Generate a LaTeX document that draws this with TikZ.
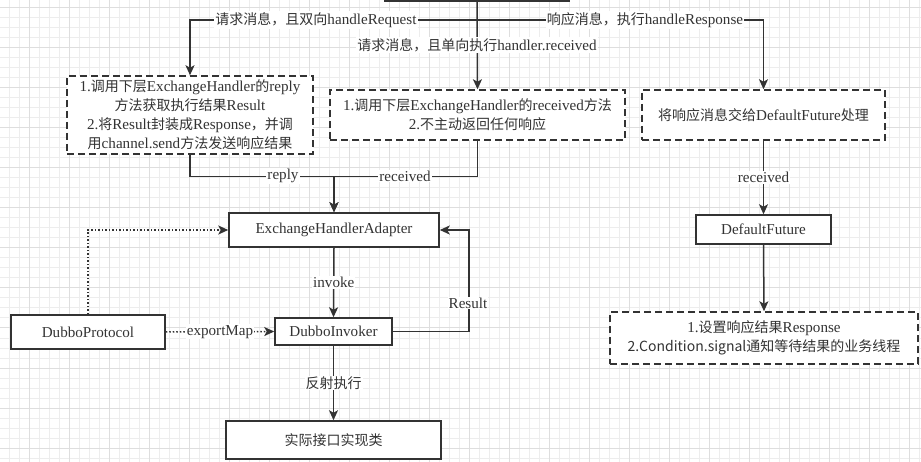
\documentclass[tikz,border=0pt]{standalone}
\usepackage{fontspec}
\setmainfont[Scale=1.08]{Liberation Serif}
\newfontfamily\cjk{Noto Sans CJK SC}
\newcommand\zh[1]{{\cjk #1}}
\usetikzlibrary{arrows.meta}
\definecolor{ink}{HTML}{333333}
\definecolor{minorgrid}{HTML}{EDEDED}
\definecolor{majorgrid}{HTML}{DEDEDE}
\tikzset{
  box/.style={draw=ink, line width=1.5pt, fill=white, inner sep=0pt, align=center,
    text=ink, font=\fontsize{14}{19}\selectfont},
  dbox/.style={box, dash pattern=on 7pt off 4pt},
  conn/.style={draw=ink, line width=1.5pt, -{Stealth[length=10pt,width=9pt,inset=2.5pt]}},
  dotconn/.style={conn, dash pattern=on 1.5pt off 2pt},
  lbl/.style={fill=white, inner sep=1pt, text=ink, font=\fontsize{14}{16}\selectfont},
}
\begin{document}
\begin{tikzpicture}[x=1pt,y=-1pt]
    \clip (0,0) rectangle (921,462);
    \fill[white] (0,0) rectangle (921,462);

    % Grid
    \foreach \x in {9,19,...,919} \draw[minorgrid,line width=1pt] (\x,0) -- (\x,462);
    \foreach \y in {8,18,...,458} \draw[minorgrid,line width=1pt] (0,\y) -- (921,\y);
    \foreach \x in {29,69,...,909} \draw[majorgrid,line width=1pt] (\x,0) -- (\x,462);
    \foreach \y in {8,48,...,448} \draw[majorgrid,line width=1pt] (0,\y) -- (921,\y);

    % Boxes
    \node[box, minimum width=185, minimum height=30] (src) at (477,-14) {};
    \node[dbox, minimum width=246, minimum height=78] (reply) at (190,115)
        {1.\zh{调用下层}ExchangeHandler\zh{的}reply\\\zh{方法获取执行结果}Result\\2.\zh{将}Result\zh{封装成}Response\zh{，并调}\\\zh{用}channel.send\zh{方法发送响应结果}};
    \node[dbox, minimum width=295, minimum height=50] (recv) at (477.5,115)
        {1.\zh{调用下层}ExchangeHandler\zh{的}received\zh{方法}\\2.\zh{不主动返回任何响应}};
    \node[dbox, minimum width=243, minimum height=50] (resp) at (763.5,115)
        {\zh{将响应消息交给}DefaultFuture\zh{处理}};
    \node[box, minimum width=210, minimum height=34] (adapter) at (334,230) {ExchangeHandlerAdapter};
    \node[box, minimum width=117, minimum height=27] (invoker) at (333.5,331.5) {DubboInvoker};
    \node[box, minimum width=154, minimum height=34] (protocol) at (88,332) {DubboProtocol};
    \node[box, minimum width=215, minimum height=38] (impl) at (333.5,440) {\zh{实际接口实现类}};
    \node[box, minimum width=135, minimum height=29] (future) at (763.5,229.5) {DefaultFuture};
    \node[dbox, minimum width=308, minimum height=52] (notify) at (764,338)
        {1.\zh{设置响应结果}Response\\\zh{2.Condition.signal通知等待结果的业务线程}};

    % Dispatch
    \coordinate (split) at (477,20);
    \draw[conn] (src.south) -- (recv.north);
    \draw[conn] (split) -| (reply.north);
    \draw[conn] (split) -| (resp.north);
    \node[lbl] (lreq) at (316,20) {\zh{请求消息，且双向}handleRequest};
    \node[lbl] (lres) at (645,20) {\zh{响应消息，执行}handleResponse};
    \node[lbl] (lone) at (477,45) {\zh{请求消息，且单向执行}handler.received};

    % Handler paths
    \draw[conn] (reply.south) -- ++(0,22) -| (adapter.north);
    \draw[conn] (recv.south) -- ++(0,36) -| (adapter.north);
    \node[lbl] (lreply) at (283,176) {reply};
    \node[lbl] (lrecv) at (405,176) {received};
    \draw[conn] (resp.south) -- node[lbl] (lfut) {received} (future.north);
    \draw[conn] (future.south) -- (notify.north);

    % Invocation
    \draw[conn] (adapter.south) -- node[lbl] (linv) {invoke} (invoker.north);
    \draw[conn] (invoker.east) -- ++(76,0) |- (adapter.east);
    \node[lbl] (lresult) at (468,303) {Result};
    \draw[dotconn] (protocol.north) |- (adapter.west);
    \draw[dotconn] (protocol.east) -- node[lbl] (lmap) {exportMap} (invoker.west);
    \draw[conn] (invoker.south) -- node[lbl] (lref) {\zh{反射执行}} (impl.north);
\end{tikzpicture}
\end{document}
